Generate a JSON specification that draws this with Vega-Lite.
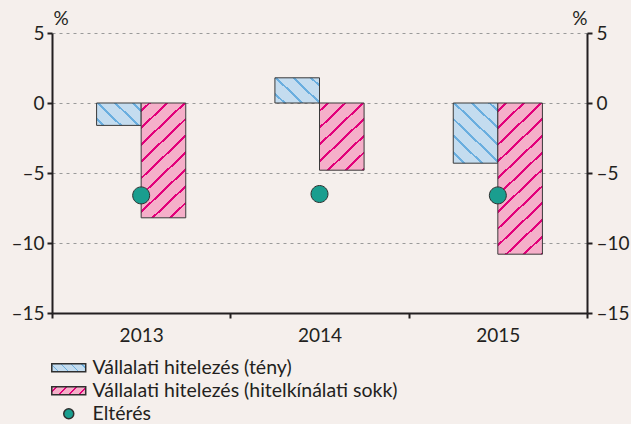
{
  "$schema": "https://vega.github.io/schema/vega-lite/v6.json",
  "width": 535,
  "height": 280,
  "autosize": {"type": "none"},
  "padding": {"left": 52, "top": 33, "right": 44, "bottom": 111},
  "background": "#f5efec",
  "params": [
    {"name": "blueStops", "value": [
      {"offset": 0, "color": "#c4dcef"},
      {"offset": 0.033, "color": "#c4dcef"}, {"offset": 0.033, "color": "#6aaedf"}, {"offset": 0.047, "color": "#6aaedf"}, {"offset": 0.047, "color": "#c4dcef"},
      {"offset": 0.117, "color": "#c4dcef"}, {"offset": 0.117, "color": "#6aaedf"}, {"offset": 0.131, "color": "#6aaedf"}, {"offset": 0.131, "color": "#c4dcef"},
      {"offset": 0.201, "color": "#c4dcef"}, {"offset": 0.201, "color": "#6aaedf"}, {"offset": 0.215, "color": "#6aaedf"}, {"offset": 0.215, "color": "#c4dcef"},
      {"offset": 0.285, "color": "#c4dcef"}, {"offset": 0.285, "color": "#6aaedf"}, {"offset": 0.299, "color": "#6aaedf"}, {"offset": 0.299, "color": "#c4dcef"},
      {"offset": 0.369, "color": "#c4dcef"}, {"offset": 0.369, "color": "#6aaedf"}, {"offset": 0.383, "color": "#6aaedf"}, {"offset": 0.383, "color": "#c4dcef"},
      {"offset": 0.453, "color": "#c4dcef"}, {"offset": 0.453, "color": "#6aaedf"}, {"offset": 0.467, "color": "#6aaedf"}, {"offset": 0.467, "color": "#c4dcef"},
      {"offset": 0.537, "color": "#c4dcef"}, {"offset": 0.537, "color": "#6aaedf"}, {"offset": 0.551, "color": "#6aaedf"}, {"offset": 0.551, "color": "#c4dcef"},
      {"offset": 0.621, "color": "#c4dcef"}, {"offset": 0.621, "color": "#6aaedf"}, {"offset": 0.635, "color": "#6aaedf"}, {"offset": 0.635, "color": "#c4dcef"},
      {"offset": 0.705, "color": "#c4dcef"}, {"offset": 0.705, "color": "#6aaedf"}, {"offset": 0.719, "color": "#6aaedf"}, {"offset": 0.719, "color": "#c4dcef"},
      {"offset": 0.789, "color": "#c4dcef"}, {"offset": 0.789, "color": "#6aaedf"}, {"offset": 0.803, "color": "#6aaedf"}, {"offset": 0.803, "color": "#c4dcef"},
      {"offset": 0.873, "color": "#c4dcef"}, {"offset": 0.873, "color": "#6aaedf"}, {"offset": 0.887, "color": "#6aaedf"}, {"offset": 0.887, "color": "#c4dcef"},
      {"offset": 0.957, "color": "#c4dcef"}, {"offset": 0.957, "color": "#6aaedf"}, {"offset": 0.971, "color": "#6aaedf"}, {"offset": 0.971, "color": "#c4dcef"},
      {"offset": 1, "color": "#c4dcef"}
    ]},
    {"name": "pinkStops", "value": [
      {"offset": 0, "color": "#f5afc9"},
      {"offset": 0.033, "color": "#f5afc9"}, {"offset": 0.033, "color": "#e2007a"}, {"offset": 0.047, "color": "#e2007a"}, {"offset": 0.047, "color": "#f5afc9"},
      {"offset": 0.117, "color": "#f5afc9"}, {"offset": 0.117, "color": "#e2007a"}, {"offset": 0.131, "color": "#e2007a"}, {"offset": 0.131, "color": "#f5afc9"},
      {"offset": 0.201, "color": "#f5afc9"}, {"offset": 0.201, "color": "#e2007a"}, {"offset": 0.215, "color": "#e2007a"}, {"offset": 0.215, "color": "#f5afc9"},
      {"offset": 0.285, "color": "#f5afc9"}, {"offset": 0.285, "color": "#e2007a"}, {"offset": 0.299, "color": "#e2007a"}, {"offset": 0.299, "color": "#f5afc9"},
      {"offset": 0.369, "color": "#f5afc9"}, {"offset": 0.369, "color": "#e2007a"}, {"offset": 0.383, "color": "#e2007a"}, {"offset": 0.383, "color": "#f5afc9"},
      {"offset": 0.453, "color": "#f5afc9"}, {"offset": 0.453, "color": "#e2007a"}, {"offset": 0.467, "color": "#e2007a"}, {"offset": 0.467, "color": "#f5afc9"},
      {"offset": 0.537, "color": "#f5afc9"}, {"offset": 0.537, "color": "#e2007a"}, {"offset": 0.551, "color": "#e2007a"}, {"offset": 0.551, "color": "#f5afc9"},
      {"offset": 0.621, "color": "#f5afc9"}, {"offset": 0.621, "color": "#e2007a"}, {"offset": 0.635, "color": "#e2007a"}, {"offset": 0.635, "color": "#f5afc9"},
      {"offset": 0.705, "color": "#f5afc9"}, {"offset": 0.705, "color": "#e2007a"}, {"offset": 0.719, "color": "#e2007a"}, {"offset": 0.719, "color": "#f5afc9"},
      {"offset": 0.789, "color": "#f5afc9"}, {"offset": 0.789, "color": "#e2007a"}, {"offset": 0.803, "color": "#e2007a"}, {"offset": 0.803, "color": "#f5afc9"},
      {"offset": 0.873, "color": "#f5afc9"}, {"offset": 0.873, "color": "#e2007a"}, {"offset": 0.887, "color": "#e2007a"}, {"offset": 0.887, "color": "#f5afc9"},
      {"offset": 0.957, "color": "#f5afc9"}, {"offset": 0.957, "color": "#e2007a"}, {"offset": 0.971, "color": "#e2007a"}, {"offset": 0.971, "color": "#f5afc9"},
      {"offset": 1, "color": "#f5afc9"}
    ]}
  ],
  "datasets": {
    "bars": [
      {"year": "2013", "series": "Vállalati hitelezés (tény)", "value": -1.6},
      {"year": "2013", "series": "Vállalati hitelezés (hitelkínálati sokk)", "value": -8.2},
      {"year": "2014", "series": "Vállalati hitelezés (tény)", "value": 1.8},
      {"year": "2014", "series": "Vállalati hitelezés (hitelkínálati sokk)", "value": -4.8},
      {"year": "2015", "series": "Vállalati hitelezés (tény)", "value": -4.3},
      {"year": "2015", "series": "Vállalati hitelezés (hitelkínálati sokk)", "value": -10.8}
    ],
    "dots": [
      {"year": "2013", "series": "Eltérés", "value": -6.6},
      {"year": "2014", "series": "Eltérés", "value": -6.5},
      {"year": "2015", "series": "Eltérés", "value": -6.6}
    ]
  },
  "config": {
    "view": {"stroke": null},
    "font": "Lato"
  },
  "layer": [
    {
      "data": {"name": "bars"},
      "mark": {
        "type": "bar",
        "fill": {"expr": "datum.series === 'Vállalati hitelezés (tény)' ? {gradient: 'linear', x1: 1, y1: 0, x2: 1 - 200 / (42.5 * (1 + pow(abs(datum.value) * 14 / 42.5, 2))), y2: 200 * (abs(datum.value) * 14 / 42.5) / (42.5 * (1 + pow(abs(datum.value) * 14 / 42.5, 2))), stops: blueStops} : {gradient: 'linear', x1: 0, y1: 0, x2: 200 / (42.5 * (1 + pow(abs(datum.value) * 14 / 42.5, 2))), y2: 200 * (abs(datum.value) * 14 / 42.5) / (42.5 * (1 + pow(abs(datum.value) * 14 / 42.5, 2))), stops: pinkStops}"},
        "stroke": "#3a3a3a",
        "strokeWidth": 1
      },
      "encoding": {
        "x": {
          "field": "year", "type": "nominal",
          "scale": {"paddingInner": 0, "paddingOuter": 0},
          "axis": {
            "title": null, "labelAngle": 0, "tickBand": "extent",
            "domainColor": "#231f20", "domainWidth": 2,
            "tickColor": "#231f20", "tickWidth": 2, "tickSize": 5,
            "labelPadding": 8, "labelFont": "Lato", "labelFontSize": 19, "labelColor": "#231f20"
          }
        },
        "xOffset": {
          "field": "series", "type": "nominal",
          "scale": {"domain": ["Vállalati hitelezés (tény)", "Vállalati hitelezés (hitelkínálati sokk)"], "paddingInner": 0, "paddingOuter": 1.098}
        },
        "y": {
          "field": "value", "type": "quantitative", "stack": null,
          "scale": {"domain": [-15, 5], "nice": false},
          "axis": {
            "orient": "left", "values": [-15, -10, -5, 0, 5], "format": "d",
            "title": "%", "titleAngle": 0, "titleX": 1, "titleY": -9, "titleAlign": "left", "titleBaseline": "alphabetic",
            "titleFont": "Lato", "titleFontSize": 19, "titleFontWeight": "normal", "titleColor": "#231f20",
            "grid": true, "gridDash": [3, 4], "gridColor": "#9a9a9a", "gridWidth": 1,
            "domainColor": "#231f20", "domainWidth": 2,
            "tickColor": "#231f20", "tickWidth": 2, "tickSize": 5,
            "labelPadding": 3, "labelFont": "Lato", "labelFontSize": 19, "labelColor": "#231f20",
            "labelExpr": "replace(datum.label, /[−-]/, '–')"
          }
        }
      }
    },
    {
      "data": {"name": "dots"},
      "mark": {
        "type": "point", "filled": true,
        "fill": {"expr": "(datum.series === 'Eltérés' || datum.value === 'Eltérés') ? '#1a9e8f' : datum.value === 'Vállalati hitelezés (tény)' ? {gradient: 'linear', x1: 1, y1: 0, x2: -2.34, y2: 0.786, stops: blueStops} : {gradient: 'linear', x1: 0, y1: 0, x2: 3.34, y2: 0.786, stops: pinkStops}"},
        "stroke": "#2f2f2f", "strokeWidth": 1, "size": 207, "opacity": 1
      },
      "encoding": {
        "x": {"field": "year", "type": "nominal"},
        "y": {
          "field": "value", "type": "quantitative",
          "axis": {
            "orient": "right", "values": [-15, -10, -5, 0, 5], "format": "d",
            "title": "%", "titleAngle": 0, "titleX": 0, "titleY": -9, "titleAlign": "right", "titleBaseline": "alphabetic",
            "titleFont": "Lato", "titleFontSize": 19, "titleFontWeight": "normal", "titleColor": "#231f20",
            "grid": false,
            "domainColor": "#231f20", "domainWidth": 2,
            "tickColor": "#231f20", "tickWidth": 2, "tickSize": 5,
            "labelPadding": 4, "labelFont": "Lato", "labelFontSize": 19, "labelColor": "#231f20",
            "labelExpr": "replace(datum.label, /[−-]/, '–')"
          }
        },
        "shape": {
          "field": "series", "type": "nominal",
          "scale": {
            "domain": ["Vállalati hitelezés (tény)", "Vállalati hitelezés (hitelkínálati sokk)", "Eltérés"],
            "range": ["M-4,-0.94H4V0.94H-4Z", "M-4,-0.94H4V0.94H-4Z", "M-1.18,0A1.18,1.18 0 1,0 1.18,0A1.18,1.18 0 1,0 -1.18,0Z"]
          },
          "legend": {
            "title": null, "orient": "none", "legendX": 7, "legendY": 325,
            "direction": "vertical", "columns": 1,
            "symbolSize": 72, "labelOffset": 14, "rowPadding": 2, "padding": 0, "labelLimit": 500,
            "labelFont": "Lato", "labelFontSize": 19.5, "labelColor": "#231f20"
          }
        }
      }
    }
  ],
  "resolve": {"axis": {"y": "independent"}}
}
